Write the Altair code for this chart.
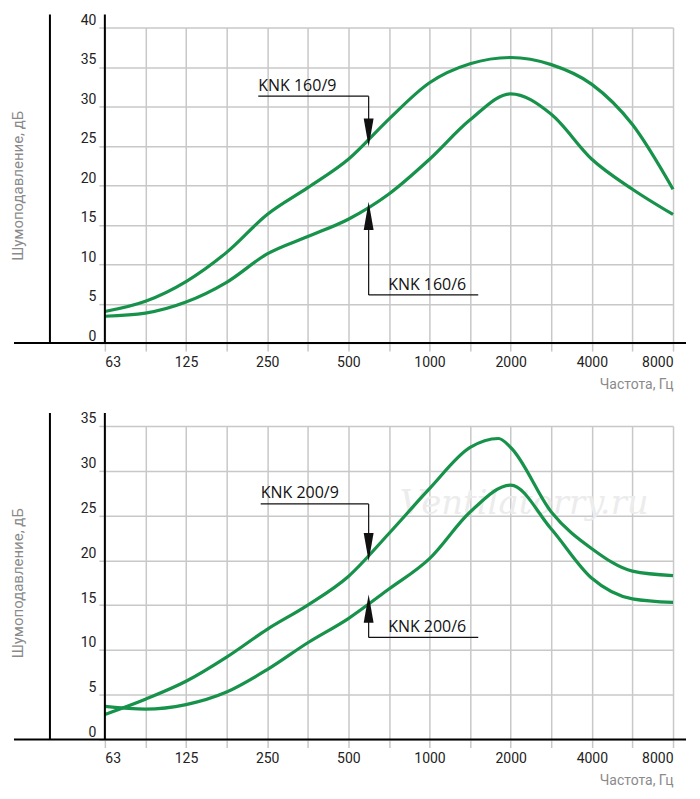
import altair as alt
import pandas as pd

freq_labels = ["63", "125", "250", "500", "1000", "2000", "4000", "8000"]

# octave index (0 = 63 Hz) and noise reduction, dB
x_160_9 = [0, 0.5, 1, 1.5, 2, 2.5, 3, 3.5, 4, 4.5, 5, 5.5, 6, 6.5, 7]
y_160_9 = [4.0, 5.3, 7.8, 11.5, 16.3, 19.7, 23.3, 28.4, 33.0, 35.4, 36.2, 35.3, 32.8, 27.7, 19.5]
x_160_6 = [0, 0.5, 1, 1.5, 2, 2.5, 3, 3.5, 4, 4.5, 5, 5.5, 6, 6.5, 7]
y_160_6 = [3.4, 3.8, 5.2, 7.7, 11.3, 13.5, 15.7, 18.9, 23.3, 28.3, 31.6, 29.0, 23.3, 19.5, 16.3]

x_200_9 = [0, 0.5, 1, 1.5, 2, 2.5, 3, 3.5, 4, 4.5, 4.85, 5.0, 5.5, 6, 6.5, 7]
y_200_9 = [2.8, 4.5, 6.5, 9.2, 12.3, 15.0, 18.2, 23.0, 28.0, 32.6, 33.6, 32.6, 25.4, 21.3, 18.8, 18.3]
x_200_6 = [0, 0.5, 1, 1.5, 2, 2.5, 3, 3.5, 4, 4.5, 5, 5.5, 6, 6.5, 7]
y_200_6 = [3.7, 3.4, 3.9, 5.3, 7.8, 10.8, 13.5, 16.8, 20.2, 25.4, 28.4, 23.5, 18.0, 15.7, 15.3]

GREEN = "#17924a"
GRID = "#c8c8c8"
FONT = "Roboto"
W = 569


def panel(series, ymax, height, notes, watermark=False):
    df = pd.concat(
        [pd.DataFrame({"x": xs, "y": ys, "s": name}) for name, xs, ys in series]
    )
    px = height / ymax
    xs = alt.Scale(domain=[0, 7], nice=False, zero=False)
    ys = alt.Scale(domain=[0, ymax], nice=False)
    xa = alt.Axis(
        values=[i / 2 for i in range(15)],
        labelExpr="datum.value % 1 == 0 ? " + str(freq_labels) + "[datum.value] : ''",
        labelOverlap=False,
        grid=True,
        gridColor=GRID,
        gridWidth=1.5,
        domain=False,
        tickColor=GRID,
        tickWidth=1.5,
        tickSize=8,
        labelFontSize=14,
        labelColor="#222",
        labelPadding=4,
        title="Частота, Гц",
        titleFontSize=14,
        titleFontWeight="normal",
        titleColor="#8a8a8a",
        titleAnchor="end",
        titleAlign="right",
        titlePadding=8,
    )
    ya = alt.Axis(
        values=list(range(0, ymax + 1, 5)),
        labelOverlap=False,
        grid=True,
        gridColor=GRID,
        gridWidth=1.5,
        domain=False,
        tickColor=GRID,
        tickWidth=1.5,
        tickSize=6,
        labelFontSize=14,
        labelColor="#222",
        labelPadding=3,
        labelBaseline="bottom",
        title="Шумоподавление, дБ",
        titleFontSize=15,
        titleFontWeight="normal",
        titleColor="#8a8a8a",
        titlePadding=55,
    )

    def X(f):
        return alt.X(f, scale=xs, axis=xa)

    def Y(f):
        return alt.Y(f, scale=ys, axis=ya)

    lines = alt.Chart(df).mark_line(color=GREEN, strokeWidth=3.2, interpolate="monotone").encode(
        x=X("x:Q"), y=Y("y:Q"), detail="s:N"
    )

    frame = pd.DataFrame({"k": [0]})
    top = -13
    yaxis = alt.Chart(frame).mark_rule(color="black", strokeWidth=2).encode(
        x=alt.value(0), y=alt.value(top), y2=alt.value(height)
    )
    leftbar = alt.Chart(frame).mark_rule(color="black", strokeWidth=2).encode(
        x=alt.value(-55), y=alt.value(top), y2=alt.value(height)
    )
    xaxis = alt.Chart(frame).mark_rule(color="black", strokeWidth=2).encode(
        x=alt.value(-91), x2=alt.value(W + 13), y=alt.value(height)
    )

    ndf = pd.DataFrame(notes, columns=["label", "tx", "ty", "x0", "x1", "uy", "tip", "down"])
    segs = []
    for _, r in ndf.iterrows():
        segs.append({"x": r.x0, "x2": r.x1, "y": r.uy, "y2": r.uy})
        segs.append({"x": 3.25, "x2": 3.25, "y": r.uy, "y2": r.tip})
    sdf = pd.DataFrame(segs)
    rules = alt.Chart(sdf).mark_rule(color="#111", strokeWidth=1.2).encode(
        x=X("x:Q"), x2="x2", y=Y("y:Q"), y2="y2"
    )
    layers = [lines, yaxis, leftbar, xaxis, rules]
    for _, r in ndf.iterrows():
        hy = r.tip + (7 / px if r.down else -7 / px)
        hd = pd.DataFrame({"x": [3.25], "y": [hy]})
        layers.append(
            alt.Chart(hd).mark_point(
                filled=True, color="#111", opacity=1, size=800, strokeWidth=0,
                shape="M -0.35 -1 L 0.35 -1 L 0 1 Z" if r.down else "M -0.35 1 L 0.35 1 L 0 -1 Z",
            ).encode(x=X("x:Q"), y=Y("y:Q"))
        )
    texts = alt.Chart(ndf).mark_text(
        align="left", baseline="alphabetic", fontSize=16, font="Open Sans", color="#111"
    ).encode(x=X("tx:Q"), y=Y("ty:Q"), text="label:N")
    layers.append(texts)

    if watermark:
        wm = alt.Chart(frame).mark_text(
            text="Ventilatorry.ru", fontSize=34, fontStyle="italic", font="DejaVu Serif",
            color="#ececec",
        ).encode(x=alt.value(420), y=alt.value(78))
        layers.insert(0, wm)
    return alt.layer(*layers).properties(width=W, height=height)


top_notes = [
    ["KNK 160/9", 1.89, 31.9, 1.89, 3.25, 31.3, 25.8, True],
    ["KNK 160/6", 3.49, 6.7, 3.25, 4.6, 6.1, 17.0, False],
]
bot_notes = [
    ["KNK 200/9", 1.92, 27.0, 1.92, 3.25, 26.3, 20.7, True],
    ["KNK 200/6", 3.49, 12.0, 3.25, 4.6, 11.4, 15.4, False],
]

chart = alt.vconcat(
    panel([("160/9", x_160_9, y_160_9), ("160/6", x_160_6, y_160_6)], 40, 316, top_notes),
    panel([("200/9", x_200_9, y_200_9), ("200/6", x_200_6, y_200_6)], 35, 314, bot_notes, True),
    spacing=21,
).properties(padding={"left": 2, "top": 5, "right": 5, "bottom": 2}).configure_view(
    stroke=None
).configure_axis(labelFont=FONT, titleFont=FONT)

chart.save("out.html", embed_options={"renderer": "svg", "actions": False})
